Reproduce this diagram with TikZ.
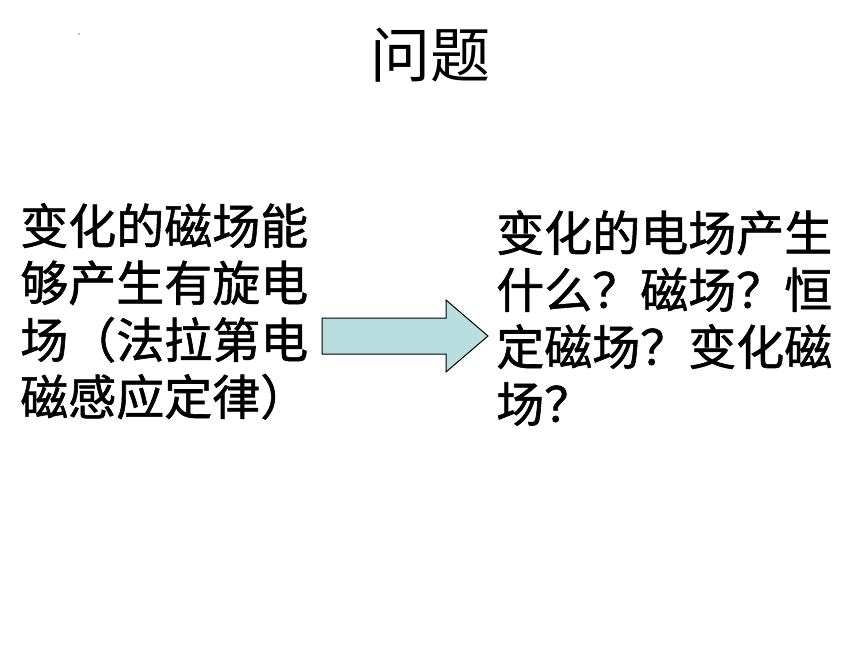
\documentclass[tikz,border=0pt]{standalone}
\usepackage{fontspec}
\newfontfamily\cjk{Noto Sans CJK SC}
\newfontfamily\cjkheavy[FakeBold=1.2]{Noto Sans CJK SC}
\usepackage{tikz}
\definecolor{arrowfill}{RGB}{184,222,224}
\tikzset{
  line/.style={anchor=base west,inner sep=0pt,font=\cjkheavy\fontsize{36pt}{42pt}\selectfont},
  title/.style={anchor=base,inner sep=0pt,font=\cjk\fontsize{45pt}{50pt}\selectfont}
}

\begin{document}
\begin{tikzpicture}[x=1pt,y=1pt]
\useasboundingbox (0,0) rectangle (645,-483.75);
\node [title] (title) at (323,-58.5) {问题};
\node [line] (l1) at (15,-183) {变化的磁场能};
\node [line] (l2) at (15,-225.75) {够产生有旋电};
\node [line] (l3) at (15,-268.5) {场（法拉第电};
\node [line] (l4) at (15,-311.25) {磁感应定律）};
\draw [fill=arrowfill,line width=0.75pt] (241.5,-238.5) -- (334.5,-238.5) -- (334.5,-225) -- (366,-252) -- (334.5,-279) -- (334.5,-265.5) -- (241.5,-265.5) -- cycle;
\node [line] (r1) at (372,-188.25) {变化的电场产生};
\node [line] (r2) at (372,-231) {什么？磁场？恒};
\node [line] (r3) at (372,-273.75) {定磁场？变化磁};
\node [line] (r4) at (372,-316.5) {场？};
\fill [gray] (59.25,-25.5) circle (0.6);
\end{tikzpicture}
\end{document}
